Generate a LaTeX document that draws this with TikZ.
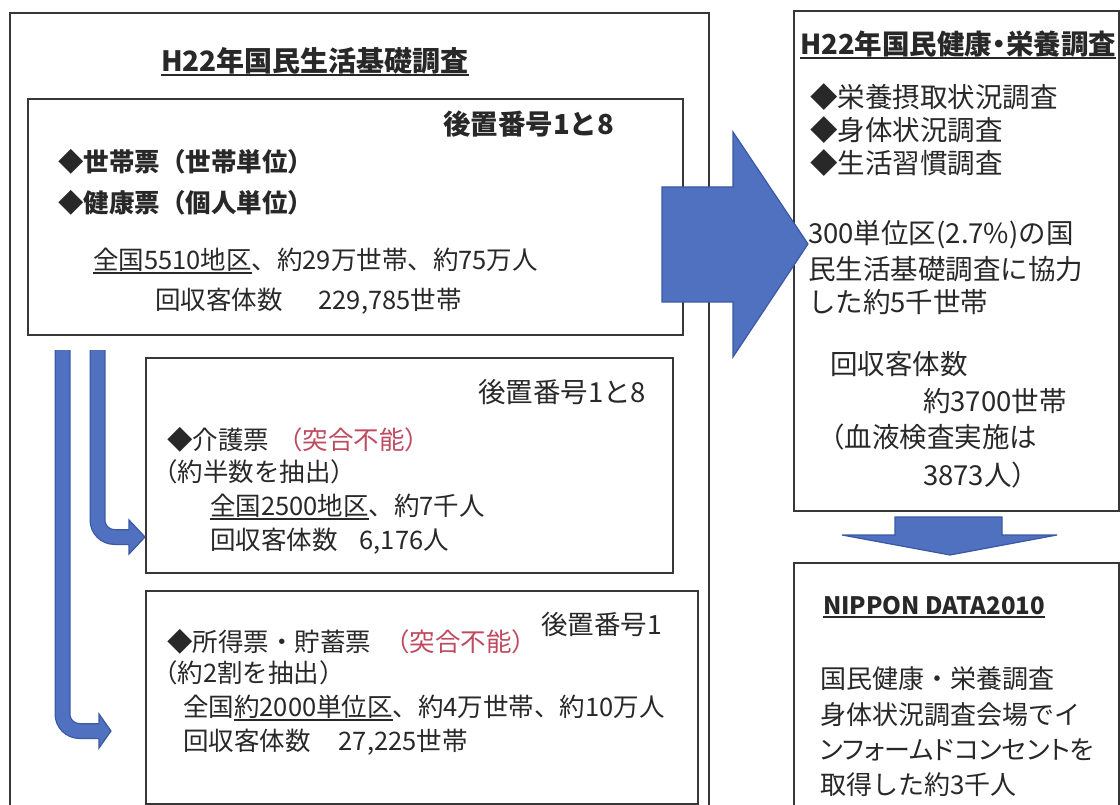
\documentclass[tikz,border=0pt]{standalone}
\usepackage{fontspec}
\setmainfont{Noto Sans CJK JP}
\newfontfamily\jpp{Noto Sans CJK JP}[RawFeature=+palt]
\definecolor{txt}{RGB}{40,40,40}
\definecolor{boxc}{RGB}{55,55,55}
\definecolor{bfill}{RGB}{80,112,192}
\definecolor{bline}{RGB}{58,88,165}
\definecolor{redt}{RGB}{190,75,95}
\newcommand\myul[1]{\setbox0\hbox{#1}\rlap{\rule[-0.17em]{\wd0}{0.07em}}\box0}
\tikzset{
  box/.style={draw=boxc, line width=1.8pt, inner sep=0, anchor=north west},
  t/.style={anchor=west, inner sep=0, text=txt, font=\fontsize{25.5}{30}\selectfont},
  tb/.style={t, font=\fontsize{25.5}{30}\selectfont\bfseries},
  lbl/.style={t, font=\fontsize{27.5}{30}\selectfont},
  r/.style={anchor=west, inner sep=0, text=txt, font=\fontsize{27.5}{32}\selectfont},
  n/.style={anchor=west, inner sep=0, text=txt, font=\fontsize{26}{30}\selectfont},
  ttl/.style={inner sep=0, text=txt, font=\fontsize{28}{32}\selectfont\bfseries},
  shaftO/.style={draw=bline, line width=16pt, rounded corners=17pt},
  shaftI/.style={draw=bfill, line width=13.5pt, rounded corners=17pt},
  headF/.style={fill=bfill},
  headB/.style={draw=bline, line width=1.2pt, line join=miter},
  bigarrow/.style={fill=bfill, draw=bline, line width=1.2pt},
}
\begin{document}
\begin{tikzpicture}[x=1pt, y=-1pt]
\useasboundingbox (0,0) rectangle (1120,805);
\clip (0,0) rectangle (1120,805);
\fill[white] (0,0) rectangle (1120,805);

% ---------- left outer box ----------
\node[box, minimum width=699pt, minimum height=810pt] (outer) at (9,12) {};
\node[ttl, anchor=center] (ttlL) at (315,62) {\myul{H22年国民生活基礎調査}};

% box 1
\node[box, minimum width=655pt, minimum height=236pt] (b1) at (27,98) {};
\node[lbl, font=\fontsize{27.5}{30}\selectfont\bfseries] (b1k) at (443,124) {後置番号1と8};
\node[tb] (b1a) at (58,162) {◆世帯票（世帯単位）};
\node[tb] (b1b) at (58,203) {◆健康票（個人単位）};
\node[t] (b1c) at (93,261) {\myul{全国5510地区}、約29万世帯、約75万人};
\node[t] (b1d) at (155,301) {回収客体数\hspace{36pt}229,785世帯};

% box 2
\node[box, minimum width=527pt, minimum height=215pt] (b2) at (145,357) {};
\node[lbl] (b2k) at (478,392) {後置番号1と8};
\node[t] (b2a) at (167,440) {◆介護票\hspace{8pt}{\color{redt}（突合不能）}};
\node[t] (b2b) at (152,472) {（約半数を抽出）};
\node[t] (b2c) at (210,507) {\myul{全国2500地区}、約7千人};
\node[t] (b2d) at (210,541) {回収客体数\hspace{22pt}6,176人};

% box 3
\node[box, minimum width=552pt, minimum height=213pt] (b3) at (145,590) {};
\node[lbl, font=\fontsize{26.5}{30}\selectfont] (b3k) at (541,624) {後置番号1};
\node[t] (b3a) at (167,642) {◆所得票・貯蓄票\hspace{13pt}{\color{redt}（突合不能）}};
\node[t] (b3b) at (152,673) {（約2割を抽出）};
\node[t] (b3c) at (183,708) {全国\myul{約2000単位区}、約4万世帯、約10万人};
\node[t] (b3d) at (183,742) {回収客体数\hspace{28pt}27,225世帯};

% bent arrows
\coordinate (u0) at (97.5,350);
\coordinate (u1) at (129,537);
\draw[shaftO] (u0) |- (u1);
\draw[shaftI] (u0) |- (u1);
\fill[headF] (129,520) -- (145,537) -- (129,554) -- cycle;
\draw[headB] (129,529) -- (129,520) -- (145,537) -- (129,554) -- (129,545);

\coordinate (l0) at (62.5,350);
\coordinate (l1) at (99,731);
\draw[shaftO] (l0) |- (l1);
\draw[shaftI] (l0) |- (l1);
\fill[headF] (99,714) -- (111,731) -- (99,748) -- cycle;
\draw[headB] (99,723) -- (99,714) -- (111,731) -- (99,748) -- (99,739);

% ---------- right boxes ----------
\node[box, minimum width=325pt, minimum height=500pt] (r1) at (793,10) {};
\node[ttl, anchor=west, font=\fontsize{27.5}{32}\selectfont\jpp\bfseries] (ttlR) at (800,45) {\myul{H22年国民健康・栄養調査}};
\node[r] (r1a) at (810,97) {◆栄養摂取状況調査};
\node[r] (r1b) at (810,130) {◆身体状況調査};
\node[r] (r1c) at (810,163) {◆生活習慣調査};
\node[r] (r1d) at (808,235) {300単位区(2.7\%)の国};
\node[r] (r1e) at (808,269) {民生活基礎調査に協力};
\node[r] (r1f) at (808,302) {した約5千世帯};
\node[r] (r1g) at (830,364) {回収客体数};
\node[r] (r1h) at (923,401) {約3700世帯};
\node[r] (r1i) at (817,437) {（血液検査実施は};
\node[r] (r1j) at (923,475) {3873人）};

\node[box, minimum width=325pt, minimum height=260pt] (r2) at (793,562) {};
\node[ttl, anchor=west, font=\fontsize{24}{28}\selectfont\bfseries] (nd) at (823,607) {\myul{NIPPON DATA2010}};
\node[n] (r2a) at (820,679) {国民健康・栄養調査};
\node[n] (r2b) at (820,715) {身体状況調査会場でイ};
\node[n, font=\fontsize{26}{30}\selectfont\jpp] (r2c) at (820,750) {ンフォームドコンセントを};
\node[n] (r2d) at (820,785) {取得した約3千人};

% big arrows
\filldraw[bigarrow] (662,187) -- (733,187) -- (733,132) -- (808,244) -- (733,357) -- (733,302) -- (662,302) -- cycle;
\filldraw[bigarrow] (895,517) -- (1002,517) -- (1002,535) -- (1057,535) -- (950,555) -- (842,535) -- (895,535) -- cycle;
\end{tikzpicture}
\end{document}
